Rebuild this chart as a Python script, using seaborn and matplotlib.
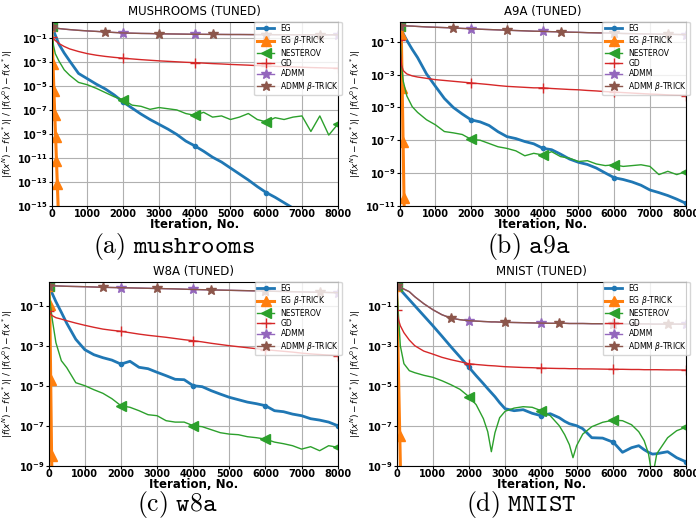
import numpy as np
import matplotlib
matplotlib.use("Agg")
import matplotlib.pyplot as plt
import seaborn as sns
from matplotlib.ticker import FixedLocator, FuncFormatter, NullLocator

# iteration grid used for mushrooms / a9a / w8a
ITERS = [0, 50, 100, 200, 350, 500, 750, 1000, 1250, 1500, 1750, 2000, 2250, 2500,
         2750, 3000, 3250, 3500, 3750, 4000, 4250, 4500, 4750, 5000, 5250, 5500,
         5750, 6000, 6250, 6500, 6750, 7000, 7250, 7500, 7750, 8000]
# mnist needs extra points around the nesterov dips
ITERS_MNIST = [0, 50, 100, 200, 350, 500, 750, 1000, 1250, 1500, 1750, 2000, 2200,
               2400, 2520, 2620, 2720, 2850, 3000, 3250, 3500, 3750, 4000, 4250, 4500,
               4650, 4780, 4880, 4980, 5150, 5400, 5700, 6000, 6250, 6500, 6700, 6850,
               6970, 7080, 7200, 7500, 7750, 8000]

# all values below are log10 of the relative gap
MUSH_EG = [0.0, -0.35, -0.75, -1.5, -2.25, -2.9, -3.95, -4.4, -4.85, -5.25, -5.75, -6.35,
           -6.85, -7.35, -7.8, -8.2, -8.6, -9.05, -9.6, -10.0, -10.45, -10.95, -11.35,
           -11.85, -12.35, -12.85, -13.4, -13.9, -14.3, -14.75, -15.2, -15.6, -16.0,
           -16.4, -16.8, -17.2]
MUSH_NEST = [0.0, -1.6, -2.3, -2.9, -3.65, -4.1, -4.7, -4.9, -5.2, -5.55, -5.9, -6.15,
             -6.6, -6.7, -6.95, -6.8, -6.9, -7.0, -7.3, -7.45, -7.2, -7.6, -7.5, -7.8,
             -7.6, -7.3, -7.8, -8.0, -7.65, -7.8, -7.6, -7.5, -8.8, -7.5, -9.1, -8.2]
MUSH_GD = [-0.9, -1.05, -1.2, -1.45, -1.7, -1.9, -2.12, -2.3, -2.43, -2.53, -2.61, -2.68,
           -2.74, -2.8, -2.85, -2.9, -2.94, -2.98, -3.02, -3.05, -3.09, -3.13, -3.16,
           -3.2, -3.23, -3.26, -3.3, -3.33, -3.36, -3.39, -3.41, -3.43, -3.46, -3.48,
           -3.5, -3.52]
MUSH_ADMM = [-0.1, -0.13, -0.16, -0.2, -0.25, -0.29, -0.35, -0.4, -0.44, -0.49, -0.53,
             -0.57, -0.59, -0.61, -0.62, -0.64, -0.65, -0.66, -0.67, -0.68, -0.685,
             -0.69, -0.695, -0.7, -0.7, -0.705, -0.71, -0.71, -0.715, -0.715, -0.72,
             -0.72, -0.72, -0.725, -0.725, -0.73]
MUSH_ADMM_BETA = MUSH_ADMM  # the two ADMM curves sit on top of each other
MUSH_EGB_ITERS = [0, 38, 62, 86, 110, 134, 158, 185]
MUSH_EGB = [0.0, -3.2, -5.4, -7.4, -9.3, -11.3, -13.2, -15.5]

A9A_EG = [0.0, -0.25, -0.5, -0.9, -1.45, -1.95, -2.95, -3.71, -4.45, -5.0, -5.4, -5.76,
          -5.88, -6.1, -6.48, -6.78, -6.9, -7.08, -7.22, -7.49, -7.58, -7.85, -8.15,
          -8.35, -8.48, -8.7, -9.0, -9.29, -9.4, -9.55, -9.75, -10.04, -10.2, -10.38,
          -10.6, -10.85]
A9A_NEST = [0.0, -2.4, -3.4, -4.3, -4.95, -5.3, -5.75, -6.06, -6.47, -6.55, -6.65, -6.95,
            -7.0, -7.2, -7.4, -7.5, -7.65, -7.95, -7.8, -7.9, -7.7, -8.0, -8.1, -8.3,
            -8.25, -8.45, -8.55, -8.5, -8.6, -8.55, -8.5, -8.6, -9.1, -8.9, -9.1, -8.92]
A9A_GD = [-0.9, -2.4, -2.75, -2.95, -3.07, -3.14, -3.22, -3.3, -3.35, -3.4, -3.45, -3.5,
          -3.55, -3.6, -3.66, -3.71, -3.74, -3.77, -3.8, -3.8, -3.84, -3.87, -3.9, -3.92,
          -3.96, -3.99, -4.03, -4.06, -4.09, -4.12, -4.15, -4.18, -4.2, -4.23, -4.25,
          -4.27]
A9A_ADMM = [0.0, -0.005, -0.01, -0.02, -0.03, -0.05, -0.08, -0.1, -0.12, -0.14, -0.17,
            -0.19, -0.22, -0.24, -0.26, -0.28, -0.3, -0.32, -0.34, -0.35, -0.37, -0.38,
            -0.4, -0.41, -0.43, -0.44, -0.45, -0.46, -0.48, -0.49, -0.5, -0.51, -0.52,
            -0.53, -0.54, -0.55]
A9A_ADMM_BETA = A9A_ADMM
A9A_EGB_ITERS = [0, 45, 70, 95, 120, 135]
A9A_EGB = [0.0, -0.5, -3.8, -7.1, -10.5, -12.5]

W8A_EG = [0.0, -0.2, -0.4, -0.8, -1.33, -1.88, -2.68, -3.2, -3.45, -3.6, -3.72, -3.92,
          -3.78, -4.08, -4.15, -4.33, -4.5, -4.68, -4.7, -5.0, -5.05, -5.25, -5.42,
          -5.58, -5.7, -5.82, -5.9, -6.0, -6.25, -6.3, -6.42, -6.5, -6.65, -6.72, -6.82,
          -7.0]
W8A_NEST = [0.0, -1.0, -1.7, -2.85, -3.75, -4.1, -4.85, -5.0, -5.2, -5.38, -5.65, -6.0,
            -6.08, -6.25, -6.45, -6.5, -6.75, -6.82, -6.82, -7.0, -7.05, -7.2, -7.35,
            -7.42, -7.45, -7.55, -7.6, -7.67, -7.82, -7.9, -8.0, -8.17, -8.05, -8.25,
            -8.0, -8.08]
W8A_GD = [-1.25, -1.4, -1.5, -1.6, -1.67, -1.75, -1.87, -1.98, -2.08, -2.17, -2.23, -2.28,
          -2.35, -2.42, -2.48, -2.53, -2.58, -2.64, -2.7, -2.75, -2.81, -2.88, -2.94,
          -3.0, -3.05, -3.1, -3.15, -3.2, -3.24, -3.28, -3.32, -3.37, -3.41, -3.44,
          -3.47, -3.5]
W8A_ADMM = [0.0, -0.003, -0.006, -0.012, -0.02, -0.03, -0.04, -0.05, -0.065, -0.08,
            -0.09, -0.1, -0.11, -0.12, -0.13, -0.14, -0.15, -0.16, -0.175, -0.19, -0.2,
            -0.21, -0.22, -0.23, -0.24, -0.25, -0.26, -0.27, -0.28, -0.29, -0.3, -0.31,
            -0.32, -0.33, -0.34, -0.35]
W8A_ADMM_BETA = W8A_ADMM
W8A_EGB_ITERS = [0, 30, 55, 80, 105]
W8A_EGB = [0.0, -0.95, -4.7, -8.5, -11.0]

MNIST_EG = [0.0, -0.1, -0.2, -0.4, -0.7, -1.0, -1.5, -2.0, -2.52, -3.05, -3.56, -4.08,
            -4.5, -4.9, -5.15, -5.35, -5.55, -5.85, -6.15, -6.25, -6.2, -6.38, -6.5,
            -6.4, -6.6, -6.78, -6.9, -6.95, -7.0, -7.15, -7.6, -7.62, -7.83, -8.33, -8.1,
            -8.0, -8.2, -8.33, -8.42, -8.4, -8.3, -8.6, -8.8]
MNIST_NEST = [0.0, -1.5, -3.0, -3.9, -4.25, -4.35, -4.48, -4.58, -4.75, -4.95, -5.18,
              -5.55, -5.95, -6.65, -7.3, -8.3, -7.35, -6.6, -6.28, -6.12, -6.05, -6.08,
              -6.25, -6.5, -7.0, -7.45, -7.95, -8.6, -8.0, -7.42, -7.05, -6.83, -6.72,
              -6.75, -6.95, -7.3, -7.75, -8.4, -9.6, -8.4, -7.6, -7.25, -7.08]
MNIST_GD = [-1.2, -1.7, -2.0, -2.35, -2.72, -3.0, -3.27, -3.42, -3.58, -3.7, -3.8, -3.9,
            -3.94, -3.97, -3.99, -4.0, -4.01, -4.03, -4.05, -4.07, -4.09, -4.1, -4.12,
            -4.13, -4.14, -4.14, -4.15, -4.15, -4.15, -4.16, -4.16, -4.17, -4.18, -4.18,
            -4.19, -4.19, -4.2, -4.2, -4.2, -4.2, -4.21, -4.21, -4.22]
MNIST_ADMM = [0.0, -0.04, -0.08, -0.17, -0.3, -0.55, -0.9, -1.2, -1.45, -1.62, -1.7,
              -1.75, -1.77, -1.79, -1.8, -1.81, -1.81, -1.82, -1.83, -1.84, -1.85, -1.86,
              -1.87, -1.88, -1.88, -1.88, -1.89, -1.89, -1.89, -1.89, -1.9, -1.9, -1.9,
              -1.91, -1.91, -1.91, -1.91, -1.91, -1.92, -1.92, -1.92, -1.92, -1.92]
MNIST_ADMM_BETA = MNIST_ADMM
MNIST_EGB_ITERS = [0, 85, 170]
MNIST_EGB = [0.0, -7.5, -15.0]

LABELS = ["EG", r"EG $\beta$-TRICK", "NESTEROV", "GD", "ADMM", r"ADMM $\beta$-TRICK"]
TITLES = ["MUSHROOMS (TUNED)", "A9A (TUNED)", "W8A (TUNED)", "MNIST (TUNED)"]
CAPTIONS = [r"$\mathrm{(a)}\ \mathtt{mushrooms}$", r"$\mathrm{(b)}\ \mathtt{a9a}$",
            r"$\mathrm{(c)}\ \mathtt{w8a}$", r"$\mathrm{(d)}\ \mathtt{MNIST}$"]

W, H = 696, 519
YLABEL = r"$|f(x^N) - f(x^*)|$ / $|f(x^0) - f(x^*)|$"


def mark_at(iters, step):
    return [i for i, t in enumerate(iters) if t % step == 0]


def draw_panel(ax, iters, eg, egb_iters, egb, nest, gd, admm, admm_beta, title, ylo, yhi,
               ylabel_x):
    pal = sns.color_palette("tab10")
    # (x, y, colour, marker, lw, ms, markevery)
    specs = [
        (iters, eg, pal[0], "o", 2.0, 3.0, mark_at(iters, 2000)),
        (egb_iters, egb, pal[1], "^", 2.2, 7.5, None),
        (iters, nest, pal[2], "<", 1.0, 7.5, mark_at(iters, 2000)),
        (iters, gd, pal[3], "+", 1.0, 7.0, mark_at(iters, 2000)),
        (iters, admm, pal[4], "*", 1.0, 7.0, mark_at(iters, 2000)),
        (iters, admm_beta, pal[5], "*", 1.0, 7.0, mark_at(iters, 1500)),
    ]
    for (x, y, c, m, lw, ms, every), label in zip(specs, LABELS):
        sns.lineplot(x=x, y=np.power(10.0, y), ax=ax, color=c, lw=lw, marker=m, ms=ms,
                     mec=c, mew=1.0, markevery=every, label=label,
                     estimator=None, sort=False)

    ax.set_yscale("log")
    ax.set_xlim(0, 8000)
    ax.set_ylim(10.0 ** ylo, 10.0 ** yhi)
    ax.set_xticks(range(0, 8001, 1000))
    ax.yaxis.set_major_locator(FixedLocator([10.0 ** k for k in range(ylo, 0, 2)]))
    ax.yaxis.set_minor_locator(NullLocator())
    ax.yaxis.set_major_formatter(
        FuncFormatter(lambda v, _: r"$\mathbf{10^{%d}}$" % round(np.log10(v))))
    ax.tick_params(labelsize=7, length=2, width=0.8, pad=1)
    ax.tick_params(axis="x", pad=0.2)
    for lab in ax.get_xticklabels():
        lab.set_fontweight("bold")
    ax.grid(True, color="#b0b0b0", lw=0.8)
    ax.set_title(title, fontsize=8.5, pad=5)
    ax.set_xlabel("Iteration, No.", fontsize=8.5, fontweight="bold")
    ax.xaxis.set_label_coords(0.5, -0.066)
    ax.set_ylabel(YLABEL, fontsize=6.5)
    ax.yaxis.set_label_coords(ylabel_x, 0.5)
    ax.legend(loc="upper right", bbox_to_anchor=(1.014, 1.0), borderaxespad=0.0,
              fontsize=5.5, handlelength=2.3, labelspacing=0.18, borderpad=0.3,
              framealpha=0.8)


def px_axes(fig, left, right, top, bottom):
    return fig.add_axes([left / W, 1 - bottom / H, (right - left) / W, (bottom - top) / H])


def main():
    fig = plt.figure(figsize=(W / 100, H / 100), dpi=100)
    ax_a = px_axes(fig, 51.7, 337.7, 21.7, 205.7)
    ax_b = px_axes(fig, 399.7, 685.7, 21.7, 205.7)
    ax_c = px_axes(fig, 48.7, 337.7, 281.7, 465.7)
    ax_d = px_axes(fig, 396.7, 685.7, 281.7, 465.7)

    draw_panel(ax_a, ITERS, MUSH_EG, MUSH_EGB_ITERS, MUSH_EGB, MUSH_NEST, MUSH_GD,
               MUSH_ADMM, MUSH_ADMM_BETA, TITLES[0], -15, 0.37, -0.128)
    draw_panel(ax_b, ITERS, A9A_EG, A9A_EGB_ITERS, A9A_EGB, A9A_NEST, A9A_GD,
               A9A_ADMM, A9A_ADMM_BETA, TITLES[1], -11, 0.24, -0.128)
    draw_panel(ax_c, ITERS, W8A_EG, W8A_EGB_ITERS, W8A_EGB, W8A_NEST, W8A_GD,
               W8A_ADMM, W8A_ADMM_BETA, TITLES[2], -9, 0.2, -0.117)
    draw_panel(ax_d, ITERS_MNIST, MNIST_EG, MNIST_EGB_ITERS, MNIST_EGB, MNIST_NEST,
               MNIST_GD, MNIST_ADMM, MNIST_ADMM_BETA, TITLES[3], -9, 0.2, -0.117)

    # captions sit under each panel, baseline
    for (cx, base), text in zip([(174, 253), (529, 253), (177, 511.5), (521, 511.5)],
                                CAPTIONS):
        fig.text(cx / W, 1 - base / H, text, ha="center", va="baseline", fontsize=18.5,
                 math_fontfamily="cm")

    fig.savefig("out.png", dpi=100)
    plt.close(fig)


if __name__ == "__main__":
    main()
